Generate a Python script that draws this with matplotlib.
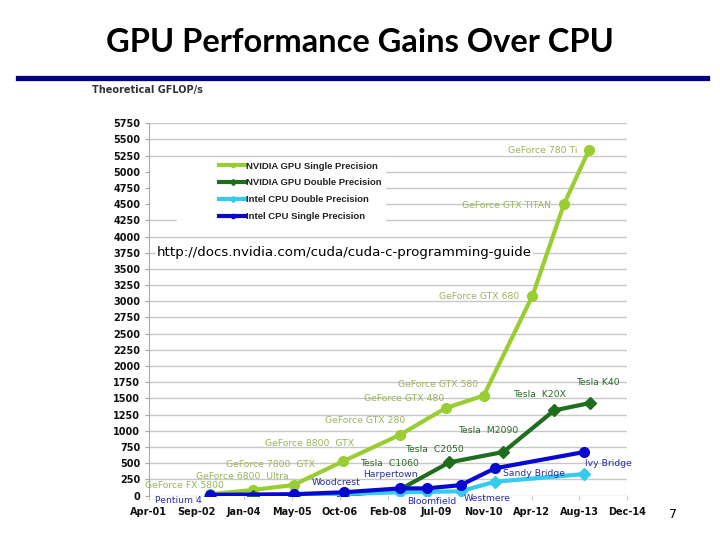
import matplotlib
matplotlib.use('Agg')
import matplotlib.pyplot as plt
import numpy as np
from matplotlib.lines import Line2D
from matplotlib.patches import Rectangle

# datos (años decimales, GFLOP/s)
gpu_sp_x = [2003.00, 2004.23, 2005.39, 2006.81, 2008.44, 2009.73, 2010.82, 2012.21, 2013.11, 2013.83]
gpu_sp_y = [20, 85, 162, 530, 940, 1350, 1543, 3083, 4498, 5343]
gpu_sp_names = ['GeForce FX 5800', 'GeForce 6800  Ultra', 'GeForce 7800  GTX', 'GeForce 8800  GTX',
                'GeForce GTX 280', 'GeForce GTX 480', 'GeForce GTX 580', 'GeForce GTX 680',
                'GeForce GTX TITAN', 'GeForce 780 Ti']

gpu_dp_x = [2003.00, 2004.23, 2005.39, 2006.81, 2008.45, 2009.84, 2011.38, 2012.83, 2013.85]
gpu_dp_y = [0, 0, 0, 0, 100, 512, 672, 1314, 1428]
gpu_dp_names = ['', '', '', '', 'Tesla  C1060', 'Tesla  C2050', 'Tesla  M2090', 'Tesla  K20X', 'Tesla K40']

cpu_x = [2003.00, 2005.39, 2006.82, 2008.44, 2009.20, 2010.16, 2011.14, 2013.67]
cpu_sp_y = [10, 20, 50, 110, 110, 160, 420, 670]
cpu_dp_y = [5, 10, 25, 50, 55, 65, 213, 330]
cpu_names = ['Pentium 4', '', 'Woodcrest', 'Harpertown', 'Bloomfield', 'Westmere', 'Sandy Bridge', 'Ivy Bridge']

x_labels = ['Apr-01', 'Sep-02', 'Jan-04', 'May-05', 'Oct-06', 'Feb-08', 'Jul-09', 'Nov-10', 'Apr-12', 'Aug-13', 'Dec-14']

# desplazamientos de las etiquetas (pixeles, centro del texto respecto al punto)
gpu_sp_off = [(-25, 9), (-11, 14), (-23, 21), (-34, 18), (-35, 14), (-41, 10), (-46, 11), (-53, -1), (-57, -1), (-46, -1)]
gpu_dp_off = [None, None, None, None, (-11, 26), (-15, 13), (-15, 21), (-15, 16), (8, 21)]
cpu_off = [(-31, -6), None, (-8, 10), (-10, 14), (5, -13), (27, -13), (39, -5), (25, -11)]

C_SP = '#9ACD32'
C_DP = '#1E6E1E'
C_CDP = '#33CCEE'
C_CSP = '#0808D0'

fig = plt.figure(figsize=(7.2, 5.4), dpi=100)
ax = fig.add_axes([0.2063, 0.0824, 0.665, 0.6894])
ax.set_axisbelow(True)

ax.plot(gpu_sp_x, gpu_sp_y, color=C_SP, lw=3, marker='o', ms=7, label='NVIDIA GPU Single Precision', zorder=3)
ax.plot(gpu_dp_x, gpu_dp_y, color=C_DP, lw=3, marker='D', ms=6, label='NVIDIA GPU Double Precision', zorder=3)
ax.plot(cpu_x, cpu_dp_y, color=C_CDP, lw=3, marker='D', ms=6, label='Intel CPU Double Precision', zorder=4)
ax.plot(cpu_x, cpu_sp_y, color=C_CSP, lw=3, marker='o', ms=7, label='Intel CPU Single Precision', zorder=5)

def etiquetas(xs, ys, names, offs, color):
    for x, y, n, o in zip(xs, ys, names, offs):
        if o is None or not n:
            continue
        ax.annotate(n, (x, y), xytext=o, textcoords='offset pixels', ha='center', va='center',
                    fontsize=6.7, color=color, zorder=6)

etiquetas(gpu_sp_x, gpu_sp_y, gpu_sp_names, gpu_sp_off, '#9CB35A')
etiquetas(gpu_dp_x, gpu_dp_y, gpu_dp_names, gpu_dp_off, '#2A6A2A')
etiquetas(cpu_x, cpu_sp_y, cpu_names, cpu_off, '#2B2BA8')

ax.set_xlim(2001.25, 2014.92)
ax.set_ylim(0, 5750)
ax.set_yticks(np.arange(0, 5751, 250))
ax.set_xticks(np.linspace(2001.25, 2014.92, len(x_labels)))
ax.set_xticklabels(x_labels)
ax.grid(axis='y', color='#C8C8C8', lw=1)
for s in ['top', 'right', 'bottom']:
    ax.spines[s].set_visible(False)
ax.spines['left'].set_color('#A8A8A8')
ax.tick_params(axis='y', length=3, color='#A8A8A8', pad=3, labelsize=7, labelcolor='#111111')
ax.tick_params(axis='x', length=3, color='#C8C8C8', pad=5, labelsize=7, labelcolor='#111111')
for t in ax.get_xticklabels() + ax.get_yticklabels():
    t.set_fontweight('bold')

# caja blanca de la leyenda
ax.add_patch(Rectangle((0.001, 0.7565), 0.493, 0.151, transform=ax.transAxes, color='white', zorder=1))
ax.add_patch(Rectangle((0.06, 0.72), 0.434, 0.05, transform=ax.transAxes, color='white', zorder=1))
leg = ax.legend(loc='upper left', bbox_to_anchor=(0.147, 0.897), frameon=False, borderpad=0,
                handlelength=2.9, handletextpad=0.0, labelspacing=0.82, borderaxespad=0,
                prop={'size': 6.8, 'weight': 'bold', 'family': 'Liberation Sans'})
for h in leg.legend_handles:
    h.set_markersize(3)
    h.set_linewidth(3)
for t in leg.get_texts():
    t.set_color('#222222')

ax.text(0.018, 3750, 'http://docs.nvidia.com/cuda/cuda-c-programming-guide', transform=ax.get_yaxis_transform(),
        fontsize=9.6, va='center', ha='left', color='black', zorder=7,
        bbox=dict(facecolor='white', edgecolor='none', pad=1))

fig.text(0.5, 0.922, 'GPU Performance Gains Over CPU', ha='center', va='center',
         fontsize=23.5, fontweight='bold', family='Lato')
fig.add_artist(Line2D([18 / 720, 707 / 720], [1 - 78 / 540, 1 - 78 / 540], color='#000080', lw=3.8))
fig.text(92 / 720, 1 - 90 / 540, 'Theoretical GFLOP/s', ha='left', va='center', fontsize=7,
         fontweight='bold', color='#333333')
fig.text(673 / 720, 1 - 515 / 540, '7', ha='center', va='center', fontsize=9)

fig.savefig('out.png', dpi=100)
